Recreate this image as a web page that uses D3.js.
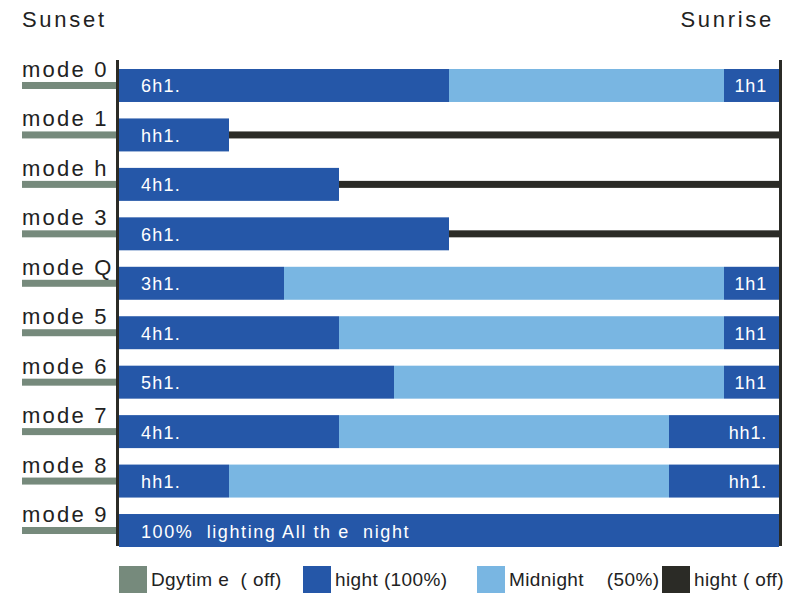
<!DOCTYPE html>
<html>
<head>
<meta charset="utf-8">
<script src="https://cdn.jsdelivr.net/npm/d3@7"></script>
<style>
  body { margin: 0; background: #fff; }
  text { font-family: "Liberation Sans", Arial, sans-serif; white-space: pre; }
</style>
</head>
<body>
<svg id="chart" width="803" height="593"></svg>
<script>
// hours of each phase, sunset -> sunrise (12h night)
const modes = ["mode 0", "mode 1", "mode h", "mode 3", "mode Q", "mode 5", "mode 6", "mode 7", "mode 8", "mode 9"];
const fullHours = [6, 2, 4, 6, 3, 4, 5, 4, 2, 12];
const midHours  = [5, 0, 0, 0, 8, 7, 6, 6, 8, 0];
const endHours  = [1, 0, 0, 0, 1, 1, 1, 2, 2, 0];
const offHours  = [0, 10, 8, 6, 0, 0, 0, 0, 0, 0];
const startLabels = ["6h1.", "hh1.", "4h1.", "6h1.", "3h1.", "4h1.", "5h1.", "4h1.", "hh1.", "100%  lighting All th e  night"];
const endLabels = ["1h1", "", "", "", "1h1", "1h1", "1h1", "hh1.", "hh1.", ""];
const legendLabels = ["Dgytim e  ( off)", "hight (100%)", "Midnight    (50%)", "hight ( off)"];

const colors = {
  day: "#768a7c",
  full: "#2557a8",
  mid: "#79b6e2",
  off: "#2b2b26",
  text: "#222"
};

const svg = d3.select("#chart");

const x = d3.scaleLinear().domain([0, 12]).range([119, 779]);
const y = d3.scaleBand().domain(modes).range([69, 547]).paddingInner(0.333).paddingOuter(0);
const bw = y.bandwidth();

// header
svg.append("text").attr("x", 22).attr("y", 27)
  .attr("font-size", 22).attr("letter-spacing", 2.7).attr("fill", colors.text).text("Sunset");
svg.append("text").attr("x", 774).attr("y", 27).attr("text-anchor", "end")
  .attr("font-size", 22).attr("letter-spacing", 2.7).attr("fill", colors.text).text("Sunrise");

const rows = modes.map((m, i) => ({
  mode: m,
  full: fullHours[i], mid: midHours[i], end: endHours[i], off: offHours[i],
  startLabel: startLabels[i], endLabel: endLabels[i]
}));

const row = svg.selectAll("g.row").data(rows).join("g").attr("class", "row");

// daytime line + mode label
row.append("rect")
  .attr("x", 22).attr("width", 95)
  .attr("y", d => y(d.mode) + bw / 2 - 3.5).attr("height", 7)
  .attr("fill", colors.day);
row.append("text")
  .attr("x", 22).attr("y", d => y(d.mode) + 8)
  .attr("font-size", 22).attr("letter-spacing", 2.2).attr("fill", colors.text)
  .text(d => d.mode);

// off line
row.filter(d => d.off > 0).append("rect")
  .attr("x", d => x(d.full)).attr("width", d => x(d.full + d.off) - x(d.full))
  .attr("y", d => y(d.mode) + bw / 2 - 3.5).attr("height", 7)
  .attr("fill", colors.off);

// full / mid / end segments
row.append("rect")
  .attr("x", x(0)).attr("width", d => x(d.full) - x(0))
  .attr("y", d => y(d.mode)).attr("height", bw)
  .attr("fill", colors.full);
row.filter(d => d.mid > 0).append("rect")
  .attr("x", d => x(d.full)).attr("width", d => x(d.full + d.mid) - x(d.full))
  .attr("y", d => y(d.mode)).attr("height", bw)
  .attr("fill", colors.mid);
row.filter(d => d.end > 0).append("rect")
  .attr("x", d => x(d.full + d.mid)).attr("width", d => x(d.full + d.mid + d.end) - x(d.full + d.mid))
  .attr("y", d => y(d.mode)).attr("height", bw)
  .attr("fill", colors.full);

row.append("text")
  .attr("x", 141).attr("y", d => y(d.mode) + bw / 2 + 7)
  .attr("font-size", 18).attr("letter-spacing", d => d.startLabel.length > 6 ? 1.6 : 1.2).attr("fill", "#fff")
  .text(d => d.startLabel);
row.filter(d => d.endLabel).append("text")
  .attr("x", 767).attr("y", d => y(d.mode) + bw / 2 + 7).attr("text-anchor", "end")
  .attr("font-size", 18).attr("letter-spacing", 0.8).attr("fill", "#fff")
  .text(d => d.endLabel);

// axes (sunset / sunrise lines)
[x(0) - 1.5, x(12) + 1.5].forEach(px => {
  svg.append("line").attr("x1", px).attr("x2", px).attr("y1", 60).attr("y2", 546)
    .attr("stroke", colors.off).attr("stroke-width", 3);
});

// legend
const legendColors = [colors.day, colors.full, colors.mid, colors.off];
const legendX = [119, 303, 477, 662];
const lg = svg.selectAll("g.legend").data(legendLabels).join("g").attr("class", "legend")
  .attr("transform", (d, i) => `translate(${legendX[i]},566)`);
lg.append("rect").attr("width", 28).attr("height", 28).attr("fill", (d, i) => legendColors[i]);
lg.append("text").attr("x", 32).attr("y", 20)
  .attr("font-size", 19).attr("letter-spacing", 0.4).attr("fill", colors.text).text(d => d);
</script>
</body>
</html>
